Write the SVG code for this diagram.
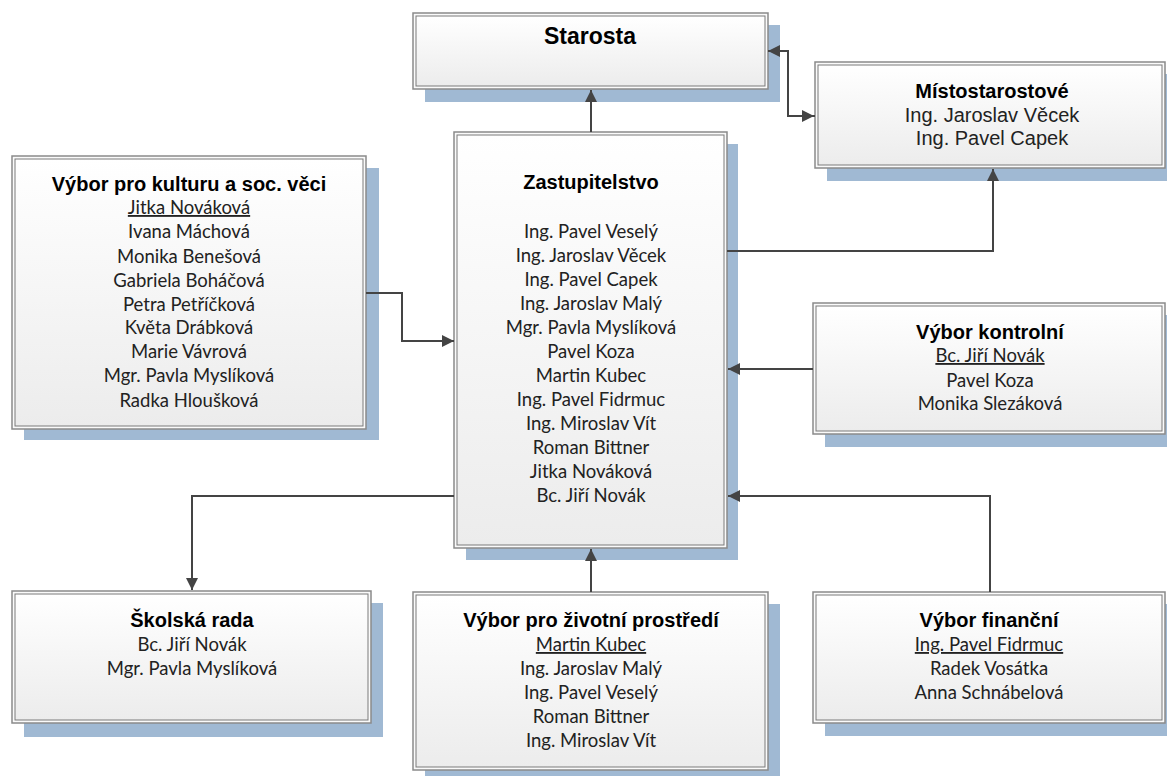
<svg xmlns="http://www.w3.org/2000/svg" width="1167" height="776" viewBox="0 0 1167 776">
<style>
.sh{fill:#a0b9d3}
.o{fill:#fafafa;stroke:#8a8a8a;stroke-width:1.5}
.i{fill:url(#g);stroke:#7a7a7a;stroke-width:1}
.t{font-family:"Liberation Sans",Arial,sans-serif;font-weight:bold;font-size:20px;fill:#000;text-anchor:middle}
.a{font-family:"Liberation Sans",Arial,sans-serif;font-size:20px;fill:#222;text-anchor:middle}
.n{font-family:Lato,"Open Sans",sans-serif;font-size:18.5px;fill:#222;text-anchor:middle}
.u{text-decoration:underline}
.c{fill:none;stroke:#444;stroke-width:2}
</style>
<defs>
<linearGradient id="g" x1="0" y1="0" x2="0" y2="1"><stop offset="0" stop-color="#ffffff"/><stop offset="1" stop-color="#ececec"/></linearGradient>
<marker id="ah" viewBox="0 0 10 10" refX="10" refY="5" markerWidth="6" markerHeight="6" orient="auto" markerUnits="strokeWidth"><path d="M0,0L10,5L0,10z" fill="#444"/></marker>
</defs>
<rect width="1167" height="776" fill="#fff"/>

<g id="starosta">
<rect class="sh" x="425" y="25" width="355" height="77"/>
<rect class="o" x="413" y="13" width="355" height="76"/>
<rect class="i" x="416" y="16" width="349" height="70"/>
<text class="t" x="590" y="44" style="font-size:23px">Starosta</text>
</g>

<g id="mistostarostove">
<rect class="sh" x="827" y="74" width="340" height="107"/>
<rect class="o" x="815" y="62" width="350" height="106"/>
<rect class="i" x="818" y="65" width="344" height="100"/>
<text class="t" x="992" y="98">Místostarostové</text>
<text class="a" x="992" y="122">Ing. Jaroslav Věcek</text>
<text class="a" x="992" y="145">Ing. Pavel Capek</text>
</g>

<g id="kultura">
<rect class="sh" x="24" y="168" width="355" height="272"/>
<rect class="o" x="12" y="156" width="354" height="273"/>
<rect class="i" x="15" y="159" width="348" height="267"/>
<text class="t" x="189" y="191">Výbor pro kulturu a soc. věci</text>
<text class="n u" x="189" y="214">Jitka Nováková</text>
<text class="n" x="189" y="238">Ivana Máchová</text>
<text class="n" x="189" y="263">Monika Benešová</text>
<text class="n" x="189" y="287">Gabriela Boháčová</text>
<text class="n" x="189" y="311">Petra Petříčková</text>
<text class="n" x="189" y="334">Květa Drábková</text>
<text class="n" x="189" y="358">Marie Vávrová</text>
<text class="n" x="189" y="382">Mgr. Pavla Myslíková</text>
<text class="n" x="189" y="407">Radka Hloušková</text>
</g>

<g id="zastupitelstvo">
<rect class="sh" x="466" y="144" width="272" height="416"/>
<rect class="o" x="454" y="132" width="273" height="416"/>
<rect class="i" x="457" y="135" width="267" height="410"/>
<text class="t" x="591" y="189">Zastupitelstvo</text>
<text class="n" x="591" y="238">Ing. Pavel Veselý</text>
<text class="n" x="591" y="262">Ing. Jaroslav Věcek</text>
<text class="n" x="591" y="286">Ing. Pavel Capek</text>
<text class="n" x="591" y="310">Ing. Jaroslav Malý</text>
<text class="n" x="591" y="334">Mgr. Pavla Myslíková</text>
<text class="n" x="591" y="358">Pavel Koza</text>
<text class="n" x="591" y="382">Martin Kubec</text>
<text class="n" x="591" y="406">Ing. Pavel Fidrmuc</text>
<text class="n" x="591" y="430">Ing. Miroslav Vít</text>
<text class="n" x="591" y="454">Roman Bittner</text>
<text class="n" x="591" y="478">Jitka Nováková</text>
<text class="n" x="591" y="502">Bc. Jiří Novák</text>
</g>

<g id="kontrolni">
<rect class="sh" x="825" y="315" width="342" height="132"/>
<rect class="o" x="813" y="303" width="352" height="131"/>
<rect class="i" x="816" y="306" width="346" height="125"/>
<text class="t" x="990" y="339">Výbor kontrolní</text>
<text class="n u" x="990" y="362">Bc. Jiří Novák</text>
<text class="n" x="990" y="387">Pavel Koza</text>
<text class="n" x="990" y="410">Monika Slezáková</text>
</g>

<g id="skolska">
<rect class="sh" x="24" y="603" width="359" height="134"/>
<rect class="o" x="12" y="591" width="359" height="132"/>
<rect class="i" x="15" y="594" width="353" height="126"/>
<text class="t" x="192" y="627">Školská rada</text>
<text class="n" x="192" y="651">Bc. Jiří Novák</text>
<text class="n" x="192" y="675">Mgr. Pavla Myslíková</text>
</g>

<g id="zivotni">
<rect class="sh" x="425" y="604" width="355" height="172"/>
<rect class="o" x="413" y="592" width="355" height="178"/>
<rect class="i" x="416" y="595" width="349" height="172"/>
<text class="t" x="591" y="627">Výbor pro životní prostředí</text>
<text class="n u" x="591" y="651">Martin Kubec</text>
<text class="n" x="591" y="675">Ing. Jaroslav Malý</text>
<text class="n" x="591" y="699">Ing. Pavel Veselý</text>
<text class="n" x="591" y="723">Roman Bittner</text>
<text class="n" x="591" y="747">Ing. Miroslav Vít</text>
</g>

<g id="financni">
<rect class="sh" x="825" y="604" width="342" height="132"/>
<rect class="o" x="813" y="592" width="352" height="131"/>
<rect class="i" x="816" y="595" width="346" height="125"/>
<text class="t" x="989" y="627">Výbor finanční</text>
<text class="n u" x="989" y="651">Ing. Pavel Fidrmuc</text>
<text class="n" x="989" y="675">Radek Vosátka</text>
<text class="n" x="989" y="699">Anna Schnábelová</text>
</g>

<g id="connectors">
<path class="c" d="M591,132V90" marker-end="url(#ah)"/>
<path class="c" d="M815,116H788V51H768" marker-end="url(#ah)"/>
<path class="c" d="M788,116H814" marker-end="url(#ah)"/>
<path class="c" d="M366,293H402V341H454" marker-end="url(#ah)"/>
<path class="c" d="M727,251H993V169" marker-end="url(#ah)"/>
<path class="c" d="M813,369H728" marker-end="url(#ah)"/>
<path class="c" d="M454,496H192V590" marker-end="url(#ah)"/>
<path class="c" d="M591,592V549" marker-end="url(#ah)"/>
<path class="c" d="M990,592V496H728" marker-end="url(#ah)"/>
</g>
</svg>
